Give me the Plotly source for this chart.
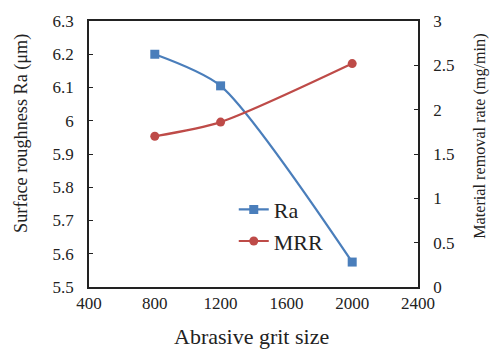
import plotly.graph_objects as go

grit = [800, 1200, 2000]
ra = [6.20, 6.105, 5.575]
mrr = [1.70, 1.86, 2.52]

blue = "#4A7EBB"
red = "#BE4B48"
font = "Liberation Serif"

W, H = 493, 351
ML, MR, MT, MB = 89, 75, 16, 64
pw, ph = W - ML - MR, H - MT - MB

fig = go.Figure()
fig.add_trace(go.Scatter(x=grit, y=ra, name="Ra", mode="lines+markers",
                         line=dict(color=blue, width=2.2, shape="spline", smoothing=0.7),
                         marker=dict(symbol="square", size=9, color=blue)))
fig.add_trace(go.Scatter(x=grit, y=mrr, name="MRR", mode="lines+markers", yaxis="y2",
                         line=dict(color=red, width=2.2, shape="spline", smoothing=0.7),
                         marker=dict(symbol="circle", size=9, color=red)))

fig.update_layout(
    width=W, height=H,
    margin=dict(l=ML, r=MR, t=MT, b=MB),
    paper_bgcolor="white", plot_bgcolor="white",
    font=dict(family=font, size=17, color="#222"),
    showlegend=True,
    legend=dict(x=0.44, y=0.37, xanchor="left", yanchor="top",
                bgcolor="rgba(0,0,0,0)", font=dict(size=22)),
    xaxis=dict(range=[400, 2400], tickvals=[400, 800, 1200, 1600, 2000, 2400],
               showgrid=False, zeroline=False, showline=True, linecolor="#222", linewidth=1.5,
               mirror=True, ticks=""),
    yaxis=dict(range=[5.5, 6.3], tickvals=[5.5, 5.6, 5.7, 5.8, 5.9, 6.0, 6.1, 6.2, 6.3],
               ticktext=["5.5", "5.6", "5.7", "5.8", "5.9", "6", "6.1", "6.2", "6.3"],
               showgrid=False, zeroline=False, showline=True, linecolor="#222", linewidth=1.5,
               ticks="inside", ticklen=4, tickcolor="#222", ticklabelstandoff=10),
    yaxis2=dict(range=[0, 3], tickvals=[0, 0.5, 1, 1.5, 2, 2.5, 3],
                ticktext=["0", "0.5", "1", "1.5", "2", "2.5", "3"],
                overlaying="y", side="right",
                showgrid=False, zeroline=False, showline=True, linecolor="#222", linewidth=1.5,
                ticks="inside", ticklen=4, tickcolor="#222", ticklabelstandoff=10),
)

def px(x, y):
    return (x - ML) / pw, (H - MB - y) / ph

ann = [
    ("Abrasive grit size", 251.5, 337, 0, 22),
    ("Surface roughness Ra (μm)", 22, 131, -90, 18.2),
    ("Material removal rate (mg/min)", 480, 134, -90, 16.2),
]
for text, x, y, ang, size in ann:
    ax, ay = px(x, y)
    fig.add_annotation(text=text, x=ax, y=ay, xref="paper", yref="paper",
                       xanchor="center", yanchor="middle", textangle=ang,
                       showarrow=False, font=dict(size=size, family=font, color="#222"))

fig.write_html("out.html")
